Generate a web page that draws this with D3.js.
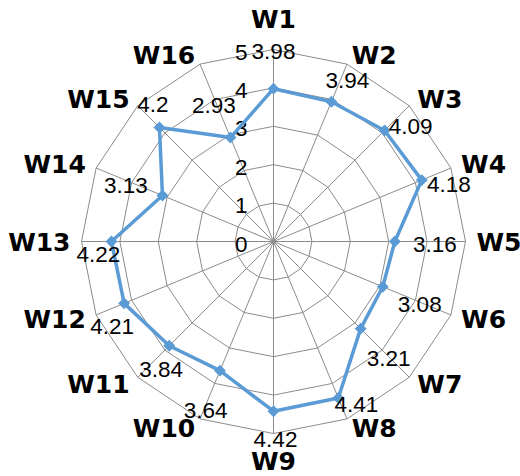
<!DOCTYPE html>
<html>
<head>
<meta charset="utf-8">
<script src="https://cdn.jsdelivr.net/npm/d3@7"></script>
<style>
  html, body { margin: 0; padding: 0; background: #fff; }
  svg { display: block; }
</style>
</head>
<body>
<svg id="chart" width="520" height="476"></svg>
<script>
// Weekly scores, W1..W16
const categories = ["W1", "W2", "W3", "W4", "W5", "W6", "W7", "W8",
                    "W9", "W10", "W11", "W12", "W13", "W14", "W15", "W16"];
const values = [3.98, 3.94, 4.09, 4.18, 3.16, 3.08, 3.21, 4.41,
                4.42, 3.64, 3.84, 4.21, 4.22, 3.13, 4.2, 2.93];
const tickValues = [0, 1, 2, 3, 4, 5];

// Pixel nudges for each value label, relative to its marker
const valueLabelNudge = [
  [0, -38], [16, -22], [26, -5], [27, 3], [40, 2], [37, 17], [28, 29], [18, 6],
  [2, 27.5], [-14.5, 39], [-8, 23], [-12, 22], [-13, 12], [-36.5, -11.5], [-6.5, -23.5], [-16.5, -33.5]
];

const svg = d3.select("#chart");
const cx = 273.5, cy = 241.5, R = 192;
const lineColor = "#5B9BD5";
const gridColor = "#8c8c8c";

const r = d3.scaleLinear().domain([0, 5]).range([0, R]);
const angle = d3.scaleLinear().domain([0, categories.length]).range([0, 2 * Math.PI]);

const g = svg.append("g").attr("transform", `translate(${cx},${cy})`);
const px = (i, rad) => rad * Math.sin(angle(i));
const py = (i, rad) => -rad * Math.cos(angle(i));

// Concentric polygon gridlines
const ring = d3.lineRadial()
  .angle((d, i) => angle(i))
  .radius(d => r(d))
  .curve(d3.curveLinearClosed);

g.append("g").selectAll("path")
  .data(tickValues.filter(t => t > 0))
  .join("path")
  .attr("d", t => ring(categories.map(() => t)))
  .attr("fill", "none")
  .attr("stroke", gridColor)
  .attr("stroke-width", 1);

// Spokes
g.append("g").selectAll("line")
  .data(categories)
  .join("line")
  .attr("x1", 0).attr("y1", 0)
  .attr("x2", (d, i) => px(i, r(5)))
  .attr("y2", (d, i) => py(i, r(5)))
  .attr("stroke", gridColor)
  .attr("stroke-width", 1);

// Radial tick labels along W1
g.append("g").selectAll("text")
  .data(tickValues)
  .join("text")
  .attr("x", -26)
  .attr("y", t => -r(t) + 10)
  .attr("text-anchor", "end")
  .attr("font-family", "Liberation Sans, Arial, sans-serif")
  .attr("font-size", 22.5)
  .attr("fill", "#000")
  .text(t => t);

// Series outline
const series = d3.lineRadial()
  .angle((d, i) => angle(i))
  .radius(d => r(d))
  .curve(d3.curveLinearClosed);

g.append("path")
  .attr("d", series(values))
  .attr("fill", "none")
  .attr("stroke", lineColor)
  .attr("stroke-width", 3.5)
  .attr("stroke-linejoin", "round");

// Diamond markers
const diamond = d3.symbol().type(d3.symbolDiamond2).size(90);
g.append("g").selectAll("path")
  .data(values)
  .join("path")
  .attr("d", diamond)
  .attr("transform", (d, i) => `translate(${px(i, r(d))},${py(i, r(d))})`)
  .attr("fill", lineColor);

// Value labels
g.append("g").selectAll("text")
  .data(values)
  .join("text")
  .attr("x", (d, i) => px(i, r(d)) + valueLabelNudge[i][0])
  .attr("y", (d, i) => py(i, r(d)) + valueLabelNudge[i][1] + 8.5)
  .attr("text-anchor", "middle")
  .attr("font-family", "Liberation Sans, Arial, sans-serif")
  .attr("font-size", 22.5)
  .attr("fill", "#000")
  .text(d => d);

// Category labels just outside the outer ring
const labelR = r(5) + 10;
g.append("g").selectAll("text")
  .data(categories)
  .join("text")
  .each(function (d, i) {
    const s = Math.sin(angle(i)), c = Math.cos(angle(i));
    const x = px(i, labelR), y = py(i, labelR);
    const t = d3.select(this);
    if (Math.abs(s) < 0.01) {
      t.attr("text-anchor", "middle").attr("x", x)
       .attr("y", c > 0 ? y - 12 : y + 26.5);
    } else {
      t.attr("text-anchor", s > 0 ? "start" : "end")
       .attr("x", s > 0 ? x + 1 : x - 1)
       .attr("y", y + 9);
    }
  })
  .attr("font-family", "DejaVu Sans, sans-serif")
  .attr("font-weight", "bold")
  .attr("font-size", 25)
  .attr("fill", "#000")
  .text(d => d);
</script>
</body>
</html>
